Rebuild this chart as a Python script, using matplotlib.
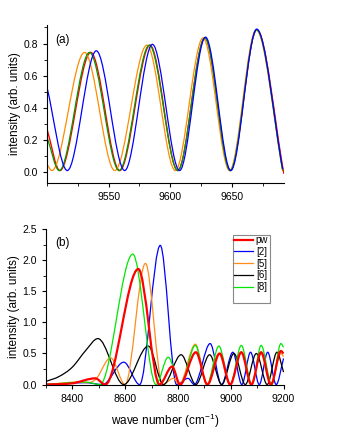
import matplotlib
matplotlib.use('Agg')
import matplotlib.pyplot as plt
from matplotlib.path import Path
from matplotlib.patches import PathPatch, Rectangle
from matplotlib.ticker import MultipleLocator

plt.rcParams['font.family'] = ['Liberation Sans', 'DejaVu Sans']

# ---- panel (a): extrema ----
a_blue_x = [9500, 9516.5, 9540, 9563, 9585.5, 9607.5, 9628.5, 9649, 9670, 9691]
a_blue_y = [0.53, 0.01, 0.755, 0.01, 0.795, 0.01, 0.84, 0.01, 0.89, 0.02]
a_red_x = [9500, 9510.5, 9535.5, 9559, 9583.5, 9606, 9628, 9648.5, 9670, 9692]
a_red_y = [0.27, 0.01, 0.745, 0.01, 0.79, 0.01, 0.835, 0.01, 0.885, -0.01]
a_green_x = [9500, 9510, 9534.5, 9558.5, 9583, 9606, 9628, 9648.5, 9670, 9691]
a_green_y = [0.22, 0.01, 0.745, 0.01, 0.79, 0.01, 0.835, 0.01, 0.885, 0.01]
a_orange_x = [9500, 9504, 9530.5, 9555, 9581, 9604, 9626.5, 9648, 9669.5, 9691]
a_orange_y = [0.05, 0.01, 0.745, 0.01, 0.79, 0.01, 0.835, 0.01, 0.885, 0.01]

# ---- panel (b) ----
labels_b = ['pw', '[2]', '[5]', '[6]', '[8]']
b_pw_x = [8300, 8400, 8487, 8525, 8650, 8730, 8778, 8808, 8868, 8912, 8958, 8998,
          9040, 9078, 9115, 9152, 9190, 9200]
b_pw_y = [0.0, 0.02, 0.10, 0.0, 1.86, 0.0, 0.29, 0.0, 0.52, 0.0, 0.50, 0.0,
          0.52, 0.0, 0.52, 0.0, 0.54, 0.50]
b_2_x = [8300, 8450, 8515, 8595, 8655, 8733, 8795, 8838, 8862, 8922, 8965, 9008,
         9042, 9075, 9108, 9140, 9172, 9200]
b_2_y = [0.0, 0.03, 0.0, 0.36, 0.0, 2.24, 0.0, 0.10, 0.0, 0.66, 0.0, 0.52,
         0.0, 0.52, 0.0, 0.52, 0.0, 0.42]
b_5_x = [8300, 8420, 8455, 8490, 8545, 8600, 8677, 8742, 8783, 8805, 8866, 8910,
         8955, 8997, 9040, 9078, 9115, 9152, 9190, 9200]
b_5_y = [0.0, 0.04, 0.03, 0.09, 0.43, 0.0, 1.95, 0.0, 0.10, 0.0, 0.65, 0.0,
         0.50, 0.0, 0.52, 0.0, 0.50, 0.0, 0.50, 0.45]
b_6_x = [8300, 8350, 8400, 8451, 8497, 8595, 8688, 8745, 8812, 8868, 8920, 8966,
         9012, 9055, 9097, 9138, 9175, 9200]
b_6_y = [0.05, 0.13, 0.28, 0.55, 0.74, 0.0, 0.62, 0.0, 0.48, 0.0, 0.48, 0.0,
         0.50, 0.0, 0.50, 0.0, 0.52, 0.2]
b_8_x = [8300, 8450, 8505, 8629, 8717, 8763, 8810, 8866, 8910, 8955, 8998, 9040,
         9080, 9115, 9155, 9190, 9200]
b_8_y = [0.0, 0.04, 0.0, 2.10, 0.0, 0.44, 0.0, 0.63, 0.0, 0.62, 0.0, 0.63,
         0.0, 0.63, 0.0, 0.66, 0.6]


def smooth_path(xs, ys):
    # cubic Bezier through the read points, flat at peaks and troughs
    n = len(xs)
    slopes = []
    for i in range(n):
        if i == 0:
            m = (ys[1] - ys[0]) / (xs[1] - xs[0])
        elif i == n - 1:
            m = (ys[-1] - ys[-2]) / (xs[-1] - xs[-2])
        elif (ys[i] - ys[i - 1]) * (ys[i + 1] - ys[i]) <= 0:
            m = 0.0
        else:
            m = (ys[i + 1] - ys[i - 1]) / (xs[i + 1] - xs[i - 1])
        slopes.append(m)
    verts = [(xs[0], ys[0])]
    codes = [Path.MOVETO]
    for i in range(n - 1):
        d = (xs[i + 1] - xs[i]) / 3
        verts += [(xs[i] + d, ys[i] + slopes[i] * d),
                  (xs[i + 1] - d, ys[i + 1] - slopes[i + 1] * d),
                  (xs[i + 1], ys[i + 1])]
        codes += [Path.CURVE4] * 3
    return Path(verts, codes)


def draw(ax, xs, ys, color, lw):
    ax.add_patch(PathPatch(smooth_path(xs, ys), fill=False, edgecolor=color, lw=lw))


def style(ax):
    for s in ['top', 'right']:
        ax.spines[s].set_visible(False)
    ax.tick_params(which='both', direction='out', labelsize=7.5)
    ax.tick_params(which='major', length=3)
    ax.tick_params(which='minor', length=2)
    ax.set_ylabel('intensity (arb. units)', fontsize=8.5, labelpad=2)


fig = plt.figure(figsize=(3.4, 4.4), dpi=100)

ax1 = fig.add_axes([0.138, 0.585, 0.697, 0.358])
draw(ax1, a_red_x, a_red_y, '#ff0000', 1.0)
draw(ax1, a_orange_x, a_orange_y, '#ff8c00', 0.9)
draw(ax1, a_green_x, a_green_y, '#009a00', 0.9)
draw(ax1, a_blue_x, a_blue_y, '#0000ff', 0.9)
ax1.set_xlim(9500, 9692)
ax1.set_ylim(-0.065, 0.915)
ax1.xaxis.set_major_locator(MultipleLocator(50))
ax1.xaxis.set_minor_locator(MultipleLocator(25))
ax1.yaxis.set_major_locator(MultipleLocator(0.2))
ax1.yaxis.set_minor_locator(MultipleLocator(0.1))
ax1.set_yticks([0.0, 0.2, 0.4, 0.6, 0.8])
ax1.set_yticklabels(['0.0', '0.2', '0.4', '0.6', '0.8'])
ax1.set_xticks([9550, 9600, 9650])
style(ax1)
ax1.text(0.035, 0.905, '(a)', transform=ax1.transAxes, fontsize=8.5, va='center')

ax2 = fig.add_axes([0.135, 0.126, 0.699, 0.353])
colors_b = ['#ff0000', '#0000ff', '#ff8c1a', '#000000', '#00e600']
widths_b = [1.6, 0.9, 0.9, 0.9, 0.9]
series_b = [(b_pw_x, b_pw_y), (b_2_x, b_2_y), (b_5_x, b_5_y), (b_6_x, b_6_y), (b_8_x, b_8_y)]
for i in [1, 2, 3, 4, 0]:
    draw(ax2, series_b[i][0], series_b[i][1], colors_b[i], widths_b[i])
handles = []
for lab, c, w in zip(labels_b, colors_b, widths_b):
    h, = ax2.plot([], [], color=c, lw=w, label=lab)
    handles.append(h)
ax2.set_xlim(8300, 9200)
ax2.set_ylim(0, 2.5)
ax2.xaxis.set_major_locator(MultipleLocator(200))
ax2.xaxis.set_minor_locator(MultipleLocator(100))
ax2.yaxis.set_major_locator(MultipleLocator(0.5))
ax2.yaxis.set_minor_locator(MultipleLocator(0.25))
style(ax2)
ax2.set_xlabel('wave number (cm$^{\\mathregular{-1}}$)', fontsize=8.5, labelpad=6)
ax2.text(0.04, 0.91, '(b)', transform=ax2.transAxes, fontsize=8.5, va='center')
ax2.legend(handles=handles, loc='upper left', bbox_to_anchor=(0.785, 0.975),
           frameon=False, fontsize=7, handlelength=1.9, handletextpad=0.3,
           labelspacing=0.18, borderpad=0.2, borderaxespad=0)
ax2.add_patch(Rectangle((0.789, 0.523), 0.152, 0.438, transform=ax2.transAxes,
                        fill=False, edgecolor='#888888', lw=0.8, zorder=5))

fig.savefig('out.png', dpi=100)
